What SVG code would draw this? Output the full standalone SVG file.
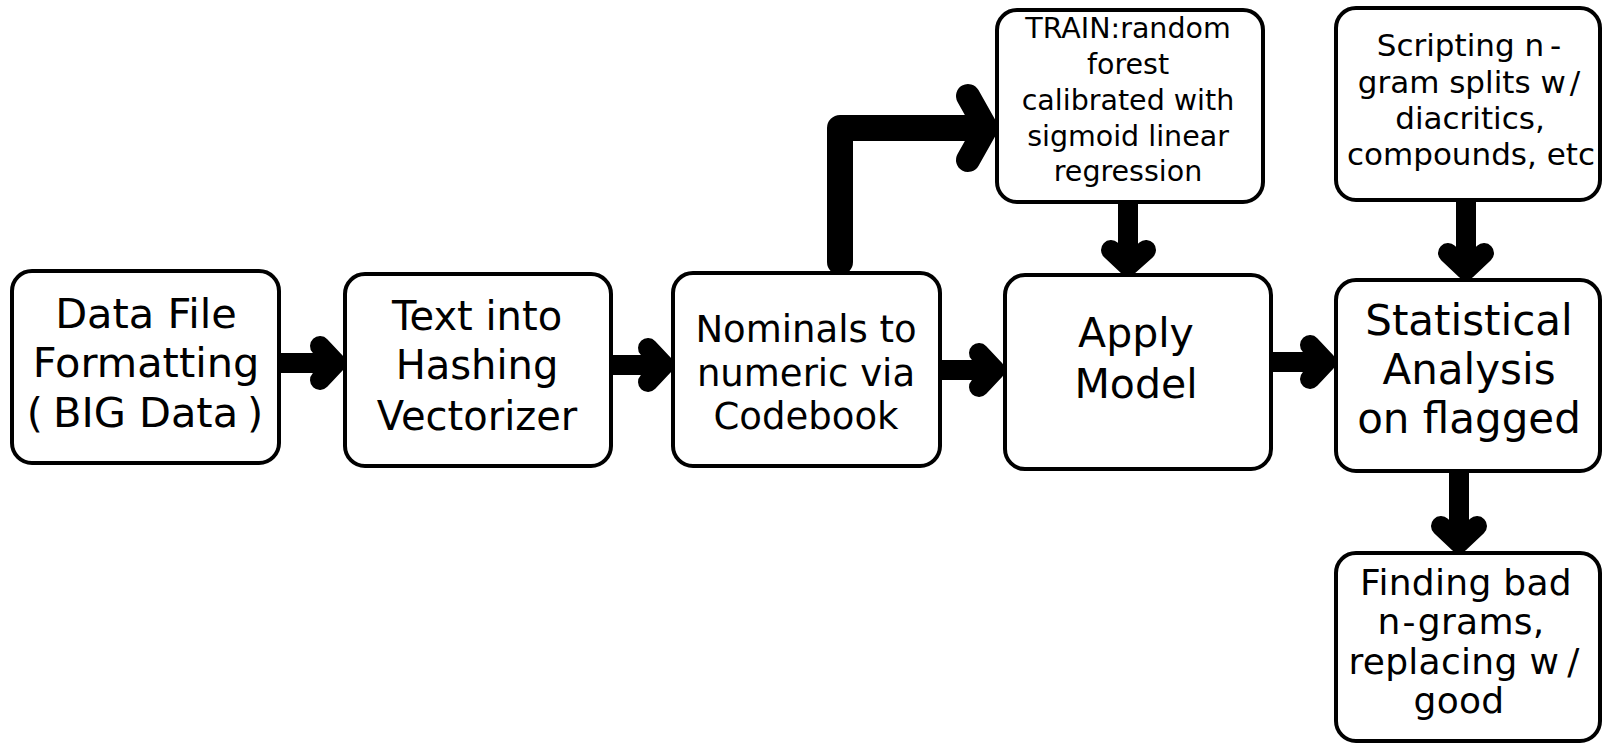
<svg xmlns="http://www.w3.org/2000/svg" width="1602" height="743" viewBox="0 0 1602 743">
<style>
.box{fill:#fff;stroke:#000;stroke-width:4}
text{font-family:"DejaVu Sans",sans-serif;fill:#000;text-anchor:middle}
.c{fill:none;stroke:#000;stroke-linecap:round;stroke-linejoin:round}
</style>
<rect width="1602" height="743" fill="#fff"/>
<g id="connectors">
<path class="c" stroke-width="20" d="M281,363 H334 M320,346 L336,363 L320,380"/>
<path class="c" stroke-width="20" d="M612,365 H662 M648,348 L664,365 L648,382"/>
<path class="c" stroke-width="20" d="M941,370 H993 M979,353 L995,370 L979,387"/>
<path class="c" stroke-width="20" d="M1272,362 H1324 M1310,345 L1326,362 L1310,379"/>
<path class="c" stroke-width="20" d="M1128,203 V263 M1111,250 L1128,266 L1146,250"/>
<path class="c" stroke-width="20" d="M1466,201 V268 M1448,253 L1466,270 L1484,253"/>
<path class="c" stroke-width="20" d="M1459,472 V541 M1441,526 L1459,543 L1477,526"/>
<path class="c" stroke-width="26" d="M840,262 V128 H980"/>
<path class="c" stroke-width="24" d="M968,96 L986,128 L968,160"/>
</g>
<g id="n1">
<rect class="box" x="12" y="271" width="267" height="192" rx="20"/>
<text font-size="41.5"><tspan x="146" y="328">Data File</tspan><tspan x="146" y="377">Formatting</tspan><tspan x="145" y="427">(<tspan dx="10">BIG Data</tspan><tspan dx="9">)</tspan></tspan></text>
</g>
<g id="n2">
<rect class="box" x="345" y="274" width="266" height="192" rx="20"/>
<text font-size="40"><tspan x="477" y="330">Text into</tspan><tspan x="477" y="379">Hashing</tspan><tspan x="477" y="430">Vectorizer</tspan></text>
</g>
<g id="n3">
<rect class="box" x="673" y="273" width="267" height="193" rx="20"/>
<text font-size="37"><tspan x="806" y="342">Nominals to</tspan><tspan x="806" y="386">numeric via</tspan><tspan x="806" y="429">Codebook</tspan></text>
</g>
<g id="n4">
<rect class="box" x="1005" y="275" width="266" height="194" rx="20"/>
<text font-size="41"><tspan x="1136" y="347">Apply</tspan><tspan x="1136" y="398">Model</tspan></text>
</g>
<g id="n5">
<rect class="box" x="1336" y="280" width="264" height="191" rx="20"/>
<text font-size="42"><tspan x="1469" y="335">Statistical</tspan><tspan x="1469" y="384">Analysis</tspan><tspan x="1469" y="433">on flagged</tspan></text>
</g>
<g id="n6">
<rect class="box" x="997" y="10" width="266" height="192" rx="20"/>
<text font-size="28.5"><tspan x="1128" y="38">TRAIN:random</tspan><tspan x="1128" y="74">forest</tspan><tspan x="1128" y="110">calibrated with</tspan><tspan x="1128" y="146">sigmoid linear</tspan><tspan x="1128" y="181">regression</tspan></text>
</g>
<g id="n7">
<rect class="box" x="1336" y="8" width="264" height="192" rx="20"/>
<text font-size="31"><tspan x="1469" y="56">Scripting n<tspan dx="6">-</tspan></tspan><tspan x="1469" y="93">gram splits w<tspan dx="4">/</tspan></tspan><tspan x="1470" y="129">diacritics,</tspan><tspan x="1471" y="165">compounds, etc</tspan></text>
</g>
<g id="n8">
<rect class="box" x="1336" y="553" width="264" height="188" rx="20"/>
<text font-size="36" letter-spacing="0.3"><tspan x="1466" y="595">Finding bad</tspan><tspan x="1461" y="634">n<tspan dx="2">-</tspan><tspan dx="2">grams,</tspan></tspan><tspan x="1464" y="674">replacing w<tspan dx="8">/</tspan></tspan><tspan x="1459" y="713">good</tspan></text>
</g>
</svg>
